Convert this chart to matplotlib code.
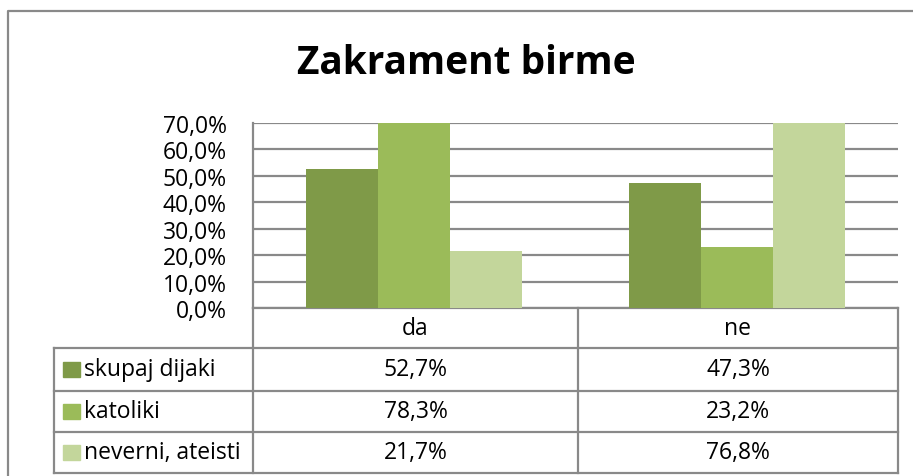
import matplotlib
matplotlib.use("Agg")
import matplotlib.pyplot as plt
from matplotlib.ticker import FuncFormatter

categories = ["da", "ne"]
series_names = ["skupaj dijaki", "katoliki", "neverni, ateisti"]
skupaj = [0.527, 0.473]
katoliki = [0.783, 0.232]
neverni = [0.217, 0.768]
series_values = [skupaj, katoliki, neverni]
colors = ["#7F9A48", "#9BBB59", "#C3D69B"]
yticks = [0.0, 0.1, 0.2, 0.3, 0.4, 0.5, 0.6, 0.7]

FONT = "Open Sans"
FS = 16.5
W, H = 913, 477
fig = plt.figure(figsize=(W / 100, H / 100), dpi=100)

def fx(x):
    return x / W

def fy(y):
    return 1 - y / H

# overlay axes in pixel coords
ov = fig.add_axes([0, 0, 1, 1], zorder=0)
ov.set_xlim(0, W)
ov.set_ylim(H, 0)
ov.axis("off")

gray = "#898989"
# outer chart border
ov.plot([8, 8, W + 5], [H + 5, 12, 12], color=gray, lw=1.6, solid_capstyle="butt")

# main bar axes
L, R, T, B = 253, 898, 124, 309
ax = fig.add_axes([fx(L), fy(B), fx(R - L), fy(T) - fy(B)], zorder=2)
ax.patch.set_alpha(0)
bw = 0.223
xs = range(len(categories))
for i, (vals, c) in enumerate(zip(series_values, colors)):
    ax.bar([x + (i - 1) * bw for x in xs], vals, width=bw, color=c, zorder=3)
ax.set_xlim(-0.5, len(categories) - 0.5)
ax.set_ylim(0, 0.7)
ax.set_yticks(yticks)
ax.yaxis.set_major_formatter(FuncFormatter(lambda v, p: f"{v*100:.1f}%".replace(".", ",")))
ax.tick_params(axis="y", length=0, labelsize=FS, pad=19)
for lbl in ax.get_yticklabels():
    lbl.set_fontfamily(FONT)
ax.set_xticks([])
ax.grid(axis="y", color=gray, lw=1.6, zorder=1)
for s in ["top", "right", "bottom"]:
    ax.spines[s].set_visible(False)
ax.spines["left"].set_color(gray)
ax.spines["left"].set_linewidth(1.6)

# title
fig.text(fx(466), fy(63), "Zakrament birme", ha="center", va="center",
         fontsize=28, fontweight="bold", family=FONT)

# data table
xl, x0, xm, x1 = 54, 253, 578, 898
rows_y = [309, 349, 392, 433, 474]
lw = 1.6
ov.plot([x0, x1], [rows_y[0], rows_y[0]], color=gray, lw=lw)
for y in rows_y[1:]:
    ov.plot([xl, x1], [y, y], color=gray, lw=lw)
for x in [x0, xm, x1]:
    ov.plot([x, x], [rows_y[0], rows_y[-1]], color=gray, lw=lw)
ov.plot([xl, xl], [rows_y[1], rows_y[-1]], color=gray, lw=lw)

col_centers = [(x0 + xm) / 2, (xm + x1) / 2]
hy = (rows_y[0] + rows_y[1]) / 2
for cx, cat in zip(col_centers, categories):
    ov.text(cx, hy, cat, ha="center", va="center", fontsize=FS, family=FONT)

for i, (name, vals, c) in enumerate(zip(series_names, series_values, colors)):
    cy = (rows_y[i + 1] + rows_y[i + 2]) / 2
    ov.add_patch(plt.Rectangle((63, cy - 7.5), 17, 15, color=c))
    ov.text(84, cy, name, ha="left", va="center", fontsize=FS, family=FONT)
    for cx, v in zip(col_centers, vals):
        ov.text(cx, cy, f"{v*100:.1f}%".replace(".", ","), ha="center", va="center",
                fontsize=FS, family=FONT)

fig.savefig("out.png", dpi=100)
